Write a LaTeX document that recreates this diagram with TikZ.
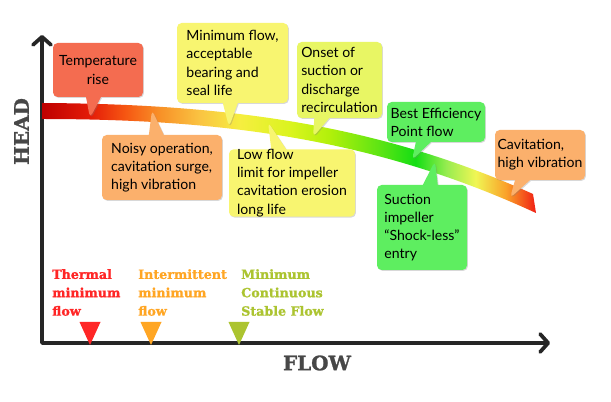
\documentclass[tikz,border=0pt]{standalone}
\usepackage{fontspec}
\setmainfont{Lato}
\newfontfamily\slabfont[FakeBold=1.2]{DejaVu Serif}
\usetikzlibrary{shapes.callouts,shadows,arrows.meta}
\newdimen\pxl
\pxl=0.03cm
% box colours
\definecolor{tempred}{RGB}{244,108,80}
\definecolor{paleyellow}{RGB}{248,245,112}
\definecolor{limeyellow}{RGB}{232,246,100}
\definecolor{softorange}{RGB}{251,176,108}
\definecolor{brightgreen}{RGB}{94,238,96}
% limit colours
\definecolor{flowred}{RGB}{255,38,38}
\definecolor{floworange}{RGB}{255,166,36}
\definecolor{flowgreen}{RGB}{172,196,48}
% band colours
\definecolor{bandi}{RGB}{190,0,0}
\definecolor{bandii}{RGB}{228,28,8}
\definecolor{bandiii}{RGB}{246,86,18}
\definecolor{bandiv}{RGB}{248,146,40}
\definecolor{bandv}{RGB}{250,196,66}
\definecolor{bandvi}{RGB}{246,238,64}
\definecolor{bandvii}{RGB}{218,244,30}
\definecolor{bandviii}{RGB}{176,240,10}
\definecolor{bandix}{RGB}{90,228,20}
\definecolor{bandx}{RGB}{20,222,20}
\definecolor{bandxi}{RGB}{150,236,80}
\definecolor{bandxii}{RGB}{240,246,84}
\definecolor{bandxiii}{RGB}{250,160,40}
\definecolor{bandxiv}{RGB}{240,30,20}
\pgfdeclarehorizontalshading{headband}{100bp}{
  color(0bp)=(bandi); color(25bp)=(bandi);
  color(29.9bp)=(bandii); color(33.4bp)=(bandiii);
  color(37bp)=(bandiv); color(41bp)=(bandv);
  color(45bp)=(bandvi); color(50.2bp)=(bandvii);
  color(54.2bp)=(bandviii); color(59.3bp)=(bandix);
  color(62.8bp)=(bandx); color(65.9bp)=(bandxi);
  color(68.9bp)=(bandxii); color(72bp)=(bandxiii);
  color(75bp)=(bandxiv); color(100bp)=(bandxiv)}
\tikzset{
  pumpcurvepic/.style={x=0.03cm,y=-0.03cm}
  ,axis/.style={line width=3.2pt, draw=black!85, line join=round
    ,{Straight Barb[round,length=2.4mm,width=5.4mm]}-{Straight Barb[round,length=2.4mm,width=5.4mm]}}
  ,axisname/.style={font=\slabfont\bfseries\fontsize{17}{17}\selectfont, text=black!72}
  ,note/.style={rectangle callout, rounded corners=4pt
    ,align=left, inner sep=0pt
    ,font=\fontsize{12}{15.5}\selectfont
    ,callout pointer width=0.45cm
    ,drop shadow={opacity=.3,shadow xshift=.8pt,shadow yshift=-.8pt}}
  ,limitname/.style={font=\slabfont\bfseries\fontsize{10.8}{15.7}\selectfont
    ,align=left, anchor=north west, inner sep=0pt}
}

\begin{document}
\begin{tikzpicture}[pumpcurvepic]
  \fill[white] (0,0) rectangle (611,402);
  \useasboundingbox (0,0) rectangle (611,402);
  % axes
  \coordinate (origin) at (42,343);
  \coordinate (yend) at (42,35);
  \coordinate (xend) at (550,343);
  \draw[axis] (yend) -- (origin) -- (xend);
  \node[axisname, rotate=90] (head) at (21.5,131.5) {HEAD};
  \node[axisname] (flow) at (317,363) {FLOW};
  % head curve
  \shade[shading=headband] (42,103) .. controls (230,104) and (380,125) .. (533,194)
    -- (536,213) .. controls (380,141) and (230,119) .. (42,119) -- cycle;
  % points on the curve
  \coordinate (tTemp) at (90,118);
  \coordinate (tNoisy) at (152,110);
  \coordinate (tMinflow) at (229,127);
  \coordinate (tLowflow) at (268,122);
  \coordinate (tOnset) at (313,137);
  \coordinate (tBep) at (412,160);
  \coordinate (tSuction) at (435,161);
  \coordinate (tCavit) at (510,198);
  % notes
  \node[note, fill=tempred, align=center, minimum width=90\pxl, minimum height=54\pxl
    ,callout absolute pointer=(tTemp)] (temp) at (98,70) {Temperature\\rise};
  \node[note, fill=paleyellow, minimum width=111\pxl, minimum height=80\pxl
    ,callout absolute pointer=(tMinflow)] (minflow) at (232.5,63)
    {Minimum flow,\\acceptable\\bearing and\\seal life};
  \node[note, fill=softorange, minimum width=120\pxl, minimum height=65\pxl
    ,callout absolute pointer=(tNoisy)] (noisy) at (162,167.5)
    {Noisy operation,\\cavitation surge,\\high vibration};
  \node[note, fill=paleyellow, minimum width=126\pxl, minimum height=66\pxl
    ,callout absolute pointer=(tLowflow)] (lowflow) at (292,183)
    {Low flow\\limit for impeller\\cavitation erosion\\long life};
  \node[note, fill=limeyellow, minimum width=85\pxl, minimum height=76\pxl
    ,callout absolute pointer=(tOnset)] (onset) at (339.5,80)
    {Onset of\\suction or\\discharge\\recirculation};
  \node[note, fill=brightgreen, minimum width=98\pxl, minimum height=40\pxl
    ,callout absolute pointer=(tBep)] (bep) at (436,122)
    {Best Efficiency\\Point flow};
  \node[note, fill=brightgreen, minimum width=90\pxl, minimum height=85\pxl
    ,callout absolute pointer=(tSuction)] (suction) at (422,227.5)
    {Suction\\impeller\\“Shock-less”\\entry};
  \node[note, fill=softorange, minimum width=90\pxl, minimum height=50\pxl
    ,callout absolute pointer=(tCavit)] (cavit) at (540,155)
    {Cavitation,\\high vibration};
  % flow limits
  \node[limitname, text=flowred] (thermal) at (52,269) {Thermal\\minimum\\flow};
  \node[limitname, text=floworange] (intermit) at (138,269) {Intermittent\\minimum\\flow};
  \node[limitname, text=flowgreen] (mcsf) at (241,269) {Minimum\\Continuous\\Stable Flow};
  \coordinate (mThermal) at (90,345);
  \coordinate (mIntermit) at (151,345);
  \coordinate (mMcsf) at (239,345);
  \fill[flowred] (mThermal) -- ++(-10.5,-23) -- ++(21,0) -- cycle;
  \fill[floworange] (mIntermit) -- ++(-10.5,-23) -- ++(21,0) -- cycle;
  \fill[flowgreen] (mMcsf) -- ++(-10.5,-23) -- ++(21,0) -- cycle;
\end{tikzpicture}
\end{document}
